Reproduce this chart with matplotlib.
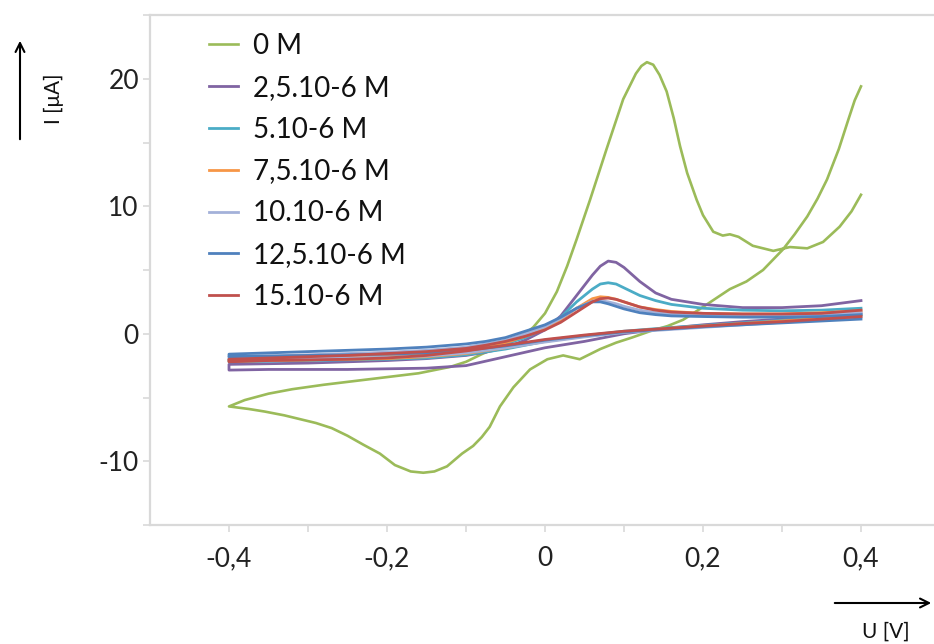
import matplotlib
matplotlib.use("Agg")
import matplotlib.pyplot as plt
from matplotlib.ticker import FixedLocator, FixedFormatter

plt.rcParams['font.family'] = ['Lato', 'DejaVu Sans']

# ---------------- data ----------------
series_labels = ["0 M", "2,5.10-6 M", "5.10-6 M", "7,5.10-6 M",
                 "10.10-6 M", "12,5.10-6 M", "15.10-6 M"]
series_colors = ["#9BBB59", "#8064A2", "#4BACC6", "#F79646",
                 "#A3B1D9", "#4F81BD", "#C0504D"]

# 0 M (blank) - full cyclic voltammogram
green_u_fwd = [-0.4, -0.38, -0.35, -0.32, -0.28, -0.24, -0.2, -0.16, -0.12, -0.1,
               -0.08, -0.06, -0.04, -0.025, -0.015, 0.0, 0.015, 0.028, 0.04, 0.057,
               0.078, 0.099, 0.115, 0.122, 0.129, 0.137, 0.145, 0.154, 0.163, 0.171,
               0.18, 0.192, 0.2, 0.213, 0.225, 0.234, 0.245, 0.263, 0.289, 0.31,
               0.332, 0.352, 0.373, 0.388, 0.4]
green_i_fwd = [-5.7, -5.2, -4.7, -4.35, -4.0, -3.7, -3.4, -3.1, -2.6, -2.2,
               -1.6, -1.05, -0.5, 0.0, 0.5, 1.6, 3.3, 5.3, 7.4, 10.5,
               14.5, 18.4, 20.4, 21.0, 21.3, 21.1, 20.3, 19.0, 16.9, 14.7,
               12.6, 10.5, 9.3, 8.0, 7.7, 7.8, 7.6, 6.9, 6.5, 6.8,
               6.7, 7.2, 8.4, 9.6, 10.9]
green_u_rev = [0.4, 0.392, 0.384, 0.372, 0.357, 0.345, 0.332, 0.316, 0.301, 0.276,
               0.255, 0.234, 0.2, 0.175, 0.155, 0.133, 0.11, 0.09, 0.07, 0.044,
               0.023, 0.003, -0.019, -0.04, -0.057, -0.07, -0.08, -0.091, -0.105, -0.124,
               -0.14, -0.154, -0.17, -0.19, -0.209, -0.23, -0.25, -0.27, -0.29, -0.31,
               -0.33, -0.355, -0.375, -0.4]
green_i_rev = [19.4, 18.3, 16.8, 14.5, 12.1, 10.6, 9.2, 7.8, 6.6, 5.0,
               4.1, 3.5, 2.1, 1.1, 0.6, 0.2, -0.3, -0.7, -1.2, -2.0,
               -1.7, -2.0, -2.8, -4.2, -5.7, -7.3, -8.1, -8.8, -9.4, -10.4,
               -10.8, -10.9, -10.8, -10.3, -9.4, -8.7, -8.0, -7.4, -7.0, -6.7,
               -6.4, -6.1, -5.9, -5.7]

# potentials shared by the other series
u_fwd = [-0.4, -0.35, -0.3, -0.25, -0.2, -0.15, -0.1, -0.075, -0.05, -0.025,
         0.0, 0.02, 0.04, 0.06, 0.07, 0.08, 0.09, 0.1, 0.12, 0.14,
         0.16, 0.2, 0.25, 0.3, 0.35, 0.4]
u_rev = [0.4, 0.35, 0.3, 0.25, 0.2, 0.15, 0.1, 0.05, 0.0, -0.05,
         -0.1, -0.15, -0.2, -0.25, -0.3, -0.35, -0.4]

i_fwd_2_5 = [-2.4, -2.35, -2.3, -2.2, -2.1, -1.95, -1.7, -1.45, -1.1, -0.5,
             0.3, 1.4, 3.0, 4.6, 5.3, 5.7, 5.6, 5.2, 4.1, 3.2,
             2.7, 2.3, 2.05, 2.05, 2.2, 2.6]
i_rev_2_5 = [1.6, 1.35, 1.15, 0.95, 0.7, 0.4, 0.0, -0.6, -1.1, -1.8,
             -2.5, -2.7, -2.75, -2.8, -2.8, -2.8, -2.85]

i_fwd_5 = [-2.0, -1.95, -1.9, -1.8, -1.7, -1.55, -1.3, -1.1, -0.8, -0.3,
           0.4, 1.3, 2.5, 3.5, 3.9, 4.0, 3.9, 3.6, 3.0, 2.6,
           2.3, 2.0, 1.85, 1.8, 1.85, 2.0]
i_rev_5 = [1.5, 1.25, 1.05, 0.85, 0.65, 0.45, 0.2, -0.15, -0.6, -1.2,
           -1.65, -1.9, -2.0, -2.05, -2.1, -2.15, -2.2]

i_fwd_7_5 = [-2.0, -1.95, -1.85, -1.75, -1.65, -1.5, -1.25, -1.0, -0.7, -0.2,
             0.4, 1.1, 2.0, 2.75, 2.9, 2.85, 2.7, 2.5, 2.1, 1.9,
             1.75, 1.6, 1.55, 1.55, 1.65, 1.8]
i_rev_7_5 = [1.4, 1.2, 1.0, 0.8, 0.6, 0.4, 0.15, -0.2, -0.6, -1.1,
             -1.55, -1.8, -1.95, -2.0, -2.05, -2.1, -2.15]

i_fwd_10 = [-1.8, -1.75, -1.65, -1.55, -1.45, -1.3, -1.05, -0.8, -0.5, 0.0,
            0.55, 1.2, 2.0, 2.55, 2.6, 2.5, 2.35, 2.15, 1.85, 1.65,
            1.55, 1.45, 1.4, 1.4, 1.5, 1.65]
i_rev_10 = [1.3, 1.1, 0.9, 0.7, 0.5, 0.3, 0.1, -0.25, -0.65, -1.1,
            -1.5, -1.75, -1.85, -1.9, -1.95, -2.0, -2.05]

i_fwd_12_5 = [-1.6, -1.5, -1.4, -1.3, -1.2, -1.05, -0.8, -0.6, -0.3, 0.2,
              0.7, 1.3, 2.0, 2.5, 2.5, 2.35, 2.15, 1.95, 1.65, 1.5,
              1.4, 1.35, 1.3, 1.3, 1.35, 1.5]
i_rev_12_5 = [1.15, 1.0, 0.85, 0.7, 0.55, 0.35, 0.15, -0.15, -0.5, -0.95,
              -1.3, -1.5, -1.6, -1.65, -1.7, -1.75, -1.8]

i_fwd_15 = [-2.0, -1.9, -1.8, -1.7, -1.55, -1.4, -1.15, -0.9, -0.6, -0.2,
            0.3, 0.9, 1.7, 2.5, 2.75, 2.8, 2.7, 2.5, 2.1, 1.85,
            1.7, 1.6, 1.55, 1.55, 1.6, 1.85]
i_rev_15 = [1.35, 1.15, 0.95, 0.8, 0.6, 0.4, 0.2, -0.1, -0.45, -0.9,
            -1.35, -1.7, -1.9, -2.0, -2.05, -2.1, -2.2]

x_ticks = [-0.4, -0.3, -0.2, -0.1, 0.0, 0.1, 0.2, 0.3, 0.4]
x_tick_labels = ["-0,4", "", "-0,2", "", "0", "", "0,2", "", "0,4"]
y_ticks = [-15, -10, -5, 0, 5, 10, 15, 20, 25]
y_tick_labels = ["", "-10", "", "0", "", "10", "", "20", ""]

# ---------------- figure ----------------
W, H = 934, 644
fig = plt.figure(figsize=(W / 100, H / 100), dpi=100)
ax = fig.add_axes([150 / W, 1 - 525 / H, (W - 150) / W, (525 - 15) / H])

# reverse sweep (0.4 -> -0.4) followed by forward sweep (-0.4 -> 0.4)
ax.plot(green_u_rev + green_u_fwd, green_i_rev + green_i_fwd,
        color=series_colors[0], lw=1.9, label=series_labels[0],
        solid_joinstyle='round')
others = [(i_fwd_2_5, i_rev_2_5), (i_fwd_5, i_rev_5), (i_fwd_7_5, i_rev_7_5),
          (i_fwd_10, i_rev_10), (i_fwd_12_5, i_rev_12_5), (i_fwd_15, i_rev_15)]
for k, (f, r) in enumerate(others, start=1):
    ax.plot(u_rev + u_fwd, r + f, color=series_colors[k], lw=2.0,
            label=series_labels[k], solid_joinstyle='round')

ax.set_xlim(-0.5, 0.4 + (W - 861) / 790)
ax.set_ylim(-15, 25)

gray = "#d9d9d9"
for s in ["left", "bottom", "top"]:
    ax.spines[s].set_color(gray)
    ax.spines[s].set_linewidth(1.6)
ax.spines["right"].set_visible(False)

ax.xaxis.set_major_locator(FixedLocator(x_ticks))
ax.xaxis.set_major_formatter(FixedFormatter(x_tick_labels))
ax.yaxis.set_major_locator(FixedLocator(y_ticks))
ax.yaxis.set_major_formatter(FixedFormatter(y_tick_labels))
ax.tick_params(axis="both", direction="out", length=5, width=1.2, color=gray,
               labelsize=19, labelcolor="#222222")
ax.tick_params(axis="x", pad=10)
ax.tick_params(axis="y", pad=3)

leg = ax.legend(loc="upper left", bbox_to_anchor=(209 / W, 1 - 33 / H),
                bbox_transform=fig.transFigure, frameon=False, fontsize=20,
                handlelength=1.05, handletextpad=0.55, labelspacing=0.57,
                borderpad=0, borderaxespad=0)
for t in leg.get_texts():
    t.set_color("#111111")

# axis arrows and labels
ax.annotate("", xy=(20 / W, 1 - 38 / H), xytext=(20 / W, 1 - 142 / H),
            xycoords="figure fraction", textcoords="figure fraction",
            arrowprops=dict(arrowstyle="->", color="black", lw=1.5,
                            mutation_scale=16), annotation_clip=False)
fig.text(54 / W, 1 - 99 / H, "I [μA]", rotation=90, ha="center", va="center",
         fontsize=15, color="#111111")
ax.annotate("", xy=(934 / W, 1 - 603 / H), xytext=(832 / W, 1 - 603 / H),
            xycoords="figure fraction", textcoords="figure fraction",
            arrowprops=dict(arrowstyle="->", color="black", lw=1.5,
                            mutation_scale=16), annotation_clip=False)
fig.text(886 / W, 1 - 632 / H, "U [V]", ha="center", va="center",
         fontsize=15, color="#111111")

fig.savefig("out.png", dpi=100)
